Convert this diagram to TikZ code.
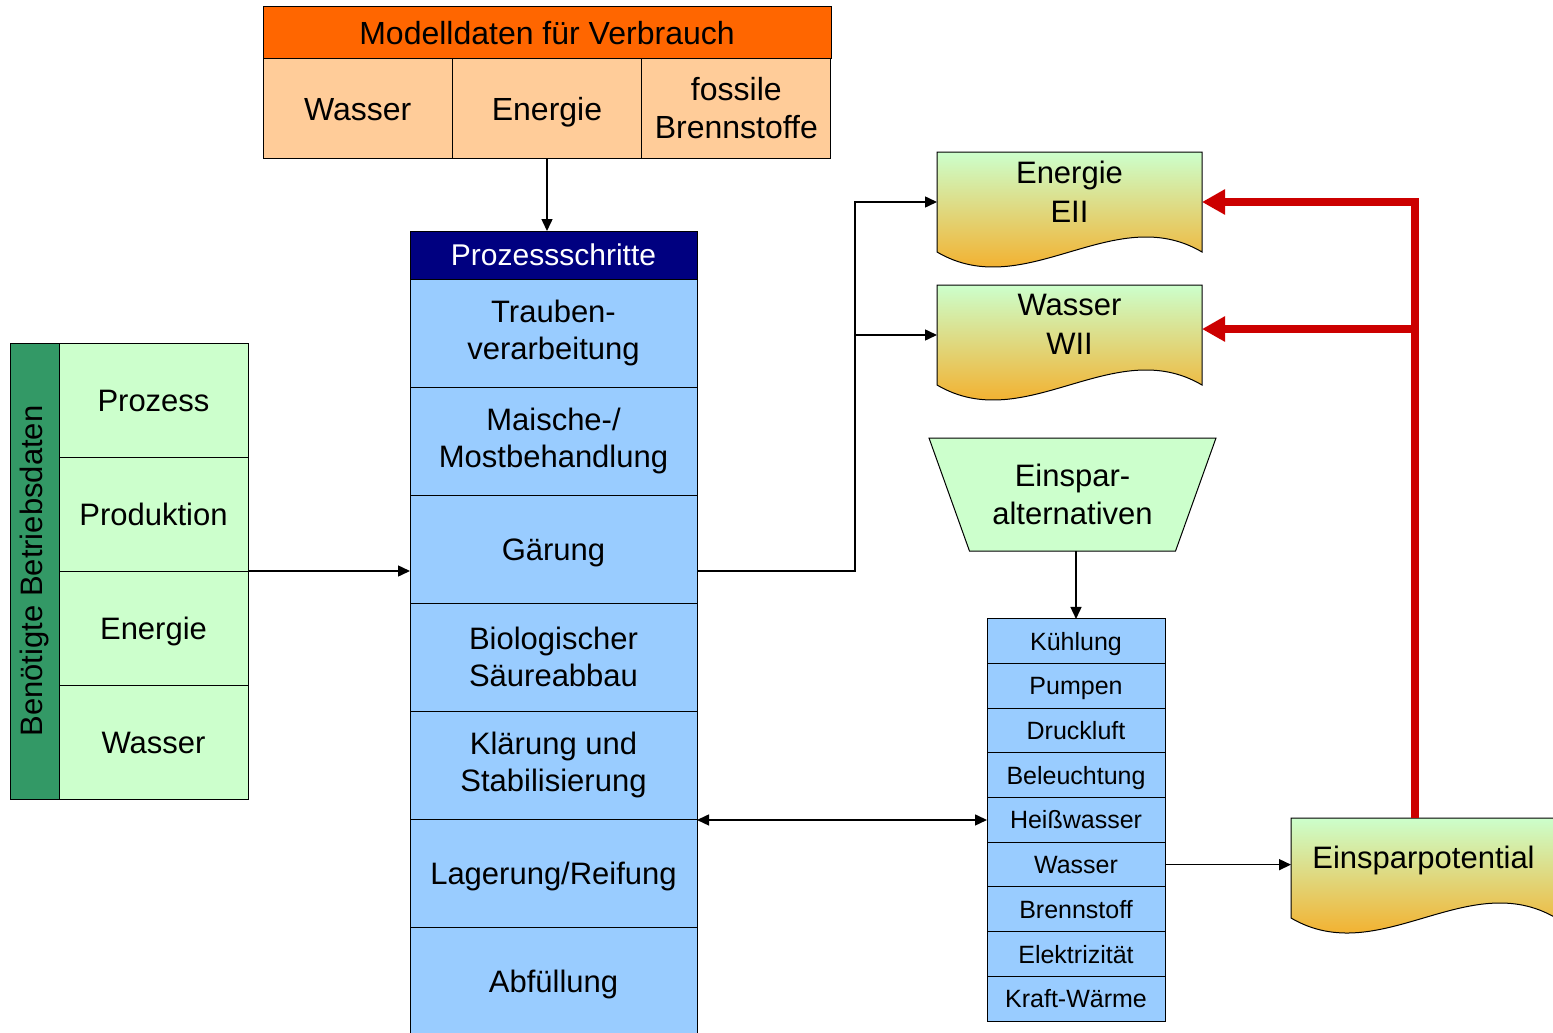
\documentclass[tikz,border=0pt]{standalone}
\usepackage{fontspec}
\setmainfont{Liberation Sans}
\usepackage{xcolor}
\usetikzlibrary{shapes.geometric, arrows.meta, positioning, calc, backgrounds}
\definecolor{HeadOrange}{RGB}{255,102,0}
\definecolor{CellPeach}{RGB}{255,204,153}
\definecolor{StepBlue}{RGB}{153,204,255}
\definecolor{HeadNavy}{RGB}{0,0,128}
\definecolor{DataGreen}{RGB}{204,255,204}
\definecolor{StripGreen}{RGB}{51,153,102}
\definecolor{DocOrange}{RGB}{255,153,0}
\definecolor{ArrowRed}{RGB}{204,0,0}

\begin{document}
\begin{tikzpicture}[
    x=1pt, y=-1pt,
    node distance=0pt,
    every node/.style={outer sep=0pt, inner sep=2pt, align=center},
    oneline/.style={text height=29pt, text depth=6.6pt},
    tophead/.style={rectangle, draw, line width=1pt, fill=HeadOrange,
                    minimum width=568pt, minimum height=52pt, font=\fontsize{32}{38}\selectfont},
    topcell/.style={rectangle, draw, line width=1pt, fill=CellPeach,
                    minimum width=189.33pt, minimum height=99pt, font=\fontsize{32}{38}\selectfont},
    stephead/.style={rectangle, draw, line width=1pt, fill=HeadNavy, text=white,
                     minimum width=287pt, minimum height=48pt, font=\fontsize{30}{36}\selectfont},
    stepbox/.style={rectangle, draw, line width=1pt, fill=StepBlue,
                    minimum width=287pt, minimum height=108pt, font=\fontsize{31}{37}\selectfont},
    datastrip/.style={rectangle, draw, line width=1pt, fill=StripGreen,
                      minimum width=456pt, minimum height=49pt, font=\fontsize{31}{37}\selectfont},
    datacell/.style={rectangle, draw, line width=1pt, fill=DataGreen, oneline,
                     minimum width=189pt, minimum height=114pt, font=\fontsize{31}{37}\selectfont},
    listbox/.style={rectangle, draw, line width=1pt, fill=StepBlue,
                    text height=24pt, text depth=6pt,
                    minimum width=178pt, minimum height=44.67pt, font=\fontsize{25}{30}\selectfont},
    docbox/.style={rectangle, minimum width=265pt, minimum height=100pt,
                   text depth=21pt, font=\fontsize{31}{39}\selectfont},
    docshade/.style={draw, line width=1pt, top color=DataGreen, bottom color=DocOrange},
    altbox/.style={trapezium, shape border rotate=180, trapezium left angle=58,
                   trapezium right angle=58, trapezium stretches body, draw, line width=1pt,
                   fill=DataGreen, minimum width=287pt, minimum height=113pt,
                   font=\fontsize{31}{38}\selectfont},
    arr/.style={-{Triangle[length=12pt, width=11pt]}, line width=1.5pt},
    dblarr/.style={{Triangle[length=12pt, width=11pt]}-{Triangle[length=12pt, width=11pt]}, line width=1.5pt},
    redarr/.style={-{Triangle[length=23pt, width=24pt]}, line width=8pt, ArrowRed}
]
\useasboundingbox (0,0) rectangle (1553,1033);
\clip (0,0) rectangle (1553,1033);

% model data table
\node[tophead] (modell) at (547,33) {Modelldaten für Verbrauch};
\node[topcell, text height=30pt, text depth=7pt, below right=0pt and 0pt of modell.south west] (mwasser) {Wasser};
\node[topcell, text height=30pt, text depth=7pt, right=of mwasser] (menergie) {Energie};
\node[topcell, right=of menergie] (mfossil) {fossile\\Brennstoffe};

% process steps
\node[stephead] (steps) at (553.5,255) {Prozessschritte};
\node[stepbox, below=of steps]     (trauben)  {Trauben-\\verarbeitung};
\node[stepbox, below=of trauben]   (maische)  {Maische-/\\Mostbehandlung};
\node[stepbox, oneline, below=of maische]   (gaerung)  {Gärung};
\node[stepbox, below=of gaerung]   (saeure)   {Biologischer\\Säureabbau};
\node[stepbox, below=of saeure]    (klaerung) {Klärung und\\Stabilisierung};
\node[stepbox, oneline, below=of klaerung]  (lagerung) {Lagerung/Reifung};
\node[stepbox, oneline, below=of lagerung]  (abfuell)  {Abfüllung};

% operating data
\node[datastrip, rotate=90] (strip) at (34.5,571) {Benötigte Betriebsdaten};
\node[datacell] (prozess) at (153.5,400) {Prozess};
\node[datacell, below=of prozess]    (produktion) {Produktion};
\node[datacell, below=of produktion] (denergie)   {Energie};
\node[datacell, below=of denergie]   (dwasser)    {Wasser};

% documents
\node[docbox] (eii) at (1069.5,202) {Energie\\EII};
\node[docbox] (wii) at (1069.5,335) {Wasser\\WII};
\node[docbox] (potential) at (1423.5,868) {Einsparpotential};
\begin{scope}[on background layer]
  \foreach \d in {eii, wii, potential}
    \shadedraw[docshade] (\d.north west) -- (\d.north east) -- (\d.south east)
      .. controls ($(\d.south west)!2/3!(\d.south east)+(0,-52)$)
      and ($(\d.south west)!1/3!(\d.south east)+(0,52)$) .. (\d.south west) -- cycle;
\end{scope}

% saving alternatives
\node[altbox] (alt) at (1072.5,494.5) {Einspar-\\alternativen};
\node[listbox] (kuehlung) at (1076,641.3) {Kühlung};
\node[listbox, below=of kuehlung]    (pumpen)      {Pumpen};
\node[listbox, below=of pumpen]      (druckluft)   {Druckluft};
\node[listbox, below=of druckluft]   (beleuchtung) {Beleuchtung};
\node[listbox, below=of beleuchtung] (heiss)       {Heißwasser};
\node[listbox, below=of heiss]       (lwasser)     {Wasser};
\node[listbox, below=of lwasser]     (brennstoff)  {Brennstoff};
\node[listbox, below=of brennstoff]  (elektro)     {Elektrizität};
\node[listbox, below=of elektro]     (kraft)       {Kraft-Wärme};

% connectors
\coordinate (gin)   at (produktion.south east -| gaerung.west);
\coordinate (gout)  at (produktion.south east -| gaerung.east);
\coordinate (split) at (855,571);
\coordinate (redup) at ([xshift=-8.5pt]potential.north);

\draw[arr] (menergie.south) -- (menergie.south |- steps.north);
\draw[arr] (produktion.south east) -- (gin);
\draw[arr] (gout) -- (split) |- (eii.west);
\draw[arr] (split) |- (wii.west);
\draw[arr] (alt.south -| kuehlung.north) -- (kuehlung.north);
\draw[dblarr] (heiss.west -| klaerung.east) -- (heiss.west);
\draw[arr] (lwasser.east) -- (lwasser.east -| potential.west);
\draw[redarr] (redup) |- (eii.east);
\draw[redarr] (redup) |- ([yshift=6pt]wii.east);
\end{tikzpicture}
\end{document}
